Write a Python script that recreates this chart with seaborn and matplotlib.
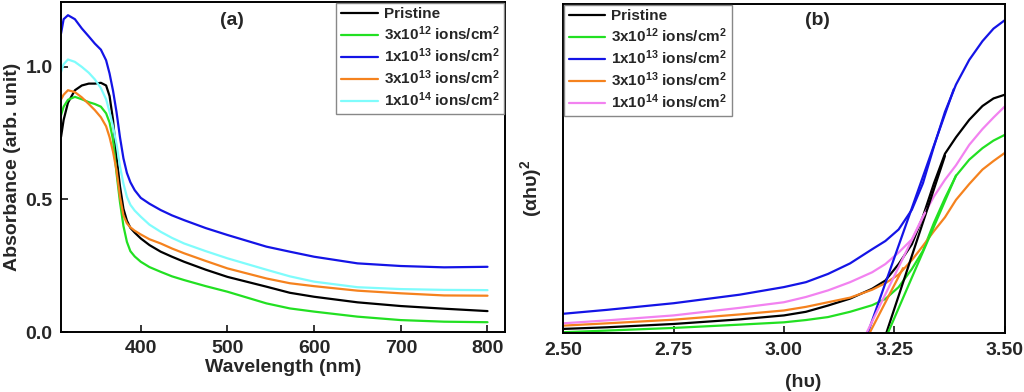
import numpy as np
import pandas as pd
import seaborn as sns
import matplotlib.pyplot as plt

# ---- data (a): absorbance spectra ----
wavelength = [308, 311, 316, 324, 332, 340, 347, 354, 360, 364, 368, 372, 376, 380, 384, 388,
              393, 400, 410, 423, 436, 450, 475, 500, 545, 572, 600, 650, 700, 750, 800]
abs_pristine = [0.736, 0.80, 0.865, 0.912, 0.93, 0.937, 0.937, 0.94, 0.93, 0.89, 0.80, 0.66,
                0.55, 0.465, 0.42, 0.393, 0.375, 0.353, 0.328, 0.303, 0.284, 0.265, 0.235,
                0.208, 0.171, 0.148, 0.133, 0.112, 0.098, 0.088, 0.079]
abs_3e12 = [0.818, 0.85, 0.876, 0.887, 0.878, 0.867, 0.86, 0.85, 0.825, 0.79, 0.724, 0.60,
            0.49, 0.40, 0.34, 0.305, 0.285, 0.265, 0.245, 0.227, 0.21, 0.196, 0.173,
            0.152, 0.108, 0.089, 0.077, 0.058, 0.045, 0.039, 0.037]
abs_1e13 = [1.126, 1.18, 1.195, 1.18, 1.145, 1.115, 1.088, 1.065, 1.025, 0.975, 0.91, 0.83,
            0.735, 0.655, 0.60, 0.565, 0.535, 0.506, 0.484, 0.46, 0.44, 0.422, 0.392,
            0.366, 0.322, 0.303, 0.284, 0.259, 0.249, 0.244, 0.246]
abs_3e13 = [0.877, 0.895, 0.912, 0.905, 0.885, 0.86, 0.837, 0.81, 0.776, 0.735, 0.68, 0.61,
            0.51, 0.44, 0.41, 0.395, 0.382, 0.368, 0.35, 0.334, 0.315, 0.297, 0.268,
            0.24, 0.202, 0.184, 0.173, 0.156, 0.146, 0.138, 0.137]
abs_1e14 = [0.981, 1.01, 1.028, 1.019, 1.0, 0.978, 0.953, 0.92, 0.878, 0.83, 0.775, 0.71,
            0.625, 0.56, 0.51, 0.48, 0.458, 0.435, 0.405, 0.378, 0.355, 0.334, 0.305,
            0.278, 0.235, 0.21, 0.19, 0.169, 0.162, 0.159, 0.158]

# ---- data (b): Tauc plot (arbitrary units) ----
energy = [2.50, 2.60, 2.75, 2.90, 3.00, 3.05, 3.10, 3.15, 3.20, 3.23, 3.26, 3.29, 3.315,
          3.34, 3.365, 3.39, 3.42, 3.45, 3.475, 3.50]
tauc_pristine = [0.013, 0.018, 0.028, 0.042, 0.054, 0.065, 0.084, 0.105, 0.135, 0.16, 0.21,
                 0.27, 0.354, 0.455, 0.545, 0.595, 0.648, 0.69, 0.713, 0.724]
tauc_3e12 = [0.003, 0.008, 0.016, 0.026, 0.033, 0.04, 0.049, 0.065, 0.085, 0.104, 0.14,
             0.195, 0.25, 0.335, 0.41, 0.478, 0.527, 0.562, 0.585, 0.602]
tauc_1e13 = [0.059, 0.071, 0.091, 0.117, 0.14, 0.155, 0.18, 0.212, 0.255, 0.28, 0.315,
             0.375, 0.455, 0.567, 0.672, 0.755, 0.83, 0.887, 0.925, 0.95]
tauc_3e13 = [0.023, 0.03, 0.041, 0.057, 0.069, 0.08, 0.094, 0.108, 0.132, 0.152, 0.178,
             0.222, 0.265, 0.31, 0.352, 0.405, 0.453, 0.497, 0.523, 0.547]
tauc_1e14 = [0.030, 0.039, 0.054, 0.077, 0.094, 0.11, 0.13, 0.155, 0.185, 0.21, 0.245,
             0.285, 0.354, 0.415, 0.466, 0.51, 0.572, 0.62, 0.655, 0.688]

# linear fits: x-intercept (band gap), end of line, slope
fit_start = [3.232, 3.2355, 3.19, 3.194, 3.187]
fit_end = [3.365, 3.39, 3.385, 3.27, 3.32]
fit_slope = [4.05, 3.1, 3.8, 2.6, 2.75]

labels = ["Pristine",
          r"3x10$^{\mathbf{12}}$ ions/cm$^{\mathbf{2}}$",
          r"1x10$^{\mathbf{13}}$ ions/cm$^{\mathbf{2}}$",
          r"3x10$^{\mathbf{13}}$ ions/cm$^{\mathbf{2}}$",
          r"1x10$^{\mathbf{14}}$ ions/cm$^{\mathbf{2}}$"]
colors_a = ["black", "#22e022", "#1414e6", "#f5821e", "#7ffcfc"]
colors_b = ["black", "#22e022", "#1414e6", "#f5821e", "#f282f0"]

sns.set_style("ticks")
plt.rcParams['font.family'] = ['Liberation Sans', 'DejaVu Sans']
plt.rcParams['font.weight'] = 'bold'
plt.rcParams['axes.labelweight'] = 'bold'
plt.rcParams['mathtext.fontset'] = 'custom'
plt.rcParams['mathtext.rm'] = 'Liberation Sans:bold'
plt.rcParams['mathtext.bf'] = 'Liberation Sans:bold'
plt.rcParams['mathtext.it'] = 'Liberation Sans:bold:italic'

fig = plt.figure(figsize=(10.24, 3.92), dpi=100)
ax1 = fig.add_axes([0.0596, 0.153, 0.4334, 0.842])
ax2 = fig.add_axes([0.550, 0.150, 0.431, 0.840])

for ys, lab, col in zip([abs_pristine, abs_3e12, abs_1e13, abs_3e13, abs_1e14], labels, colors_a):
    sns.lineplot(x=wavelength, y=ys, ax=ax1, color=col, linewidth=1.6, label=lab)

for ys, lab, col in zip([tauc_pristine, tauc_3e12, tauc_1e13, tauc_3e13, tauc_1e14], labels, colors_b):
    sns.lineplot(x=energy, y=ys, ax=ax2, color=col, linewidth=1.6, label=lab)

# straight-line extrapolations to the energy axis
for x0, x1, m, col in zip(fit_start, fit_end, fit_slope, colors_b):
    xs = np.array([x0, x1])
    sns.lineplot(x=xs, y=m * (xs - x0), ax=ax2, color=col, linewidth=1.6)

# axes (a)
ax1.set_xlim(308, 820)
ax1.set_ylim(0, 1.245)
ax1.set_xticks([400, 500, 600, 700, 800])
ax1.set_yticks([0.0, 0.5, 1.0])
ax1.set_xlabel("Wavelength (nm)", fontsize=14, labelpad=1)
ax1.set_ylabel("Absorbance (arb. unit)", fontsize=14, labelpad=3)
ax1.text(0.385, 0.945, "(a)", transform=ax1.transAxes, ha='center', va='center',
         fontsize=14, fontweight='bold')

# axes (b)
ax2.set_xlim(2.5, 3.5)
ax2.set_ylim(0, 1)
ax2.set_xticks([2.50, 2.75, 3.00, 3.25, 3.50])
ax2.set_xticklabels(["2.50", "2.75", "3.00", "3.25", "3.50"])
ax2.set_yticks([])
ax2.set_xlabel("(h\u03c5)", fontsize=14)
ax2.set_ylabel("(\u03b1h\u03c5)$^2$", fontsize=14)
ax2.xaxis.set_label_coords(0.543, -0.125)
ax2.yaxis.set_label_coords(-0.044, 0.44)
ax2.text(0.577, 0.95, "(b)", transform=ax2.transAxes, ha='center', va='center',
         fontsize=14, fontweight='bold')

for ax in (ax1, ax2):
    ax.tick_params(direction='in', length=5, width=1.3, labelsize=14, pad=6)
    for s in ax.spines.values():
        s.set_linewidth(1.4)
        s.set_color('black')
    for t in ax.get_xticklabels() + ax.get_yticklabels():
        t.set_fontweight('bold')

leg_kw = dict(fontsize=11, handlelength=2.4, labelspacing=0.22, borderpad=0.3,
              handletextpad=0.4, fancybox=False, framealpha=1, edgecolor='#888888',
              borderaxespad=0.05)
l1 = ax1.legend(loc='upper right', **leg_kw)
l2 = ax2.legend(loc='upper left', **leg_kw)
for leg in (l1, l2):
    leg.get_frame().set_linewidth(1.0)
    for t in leg.get_texts():
        t.set_fontweight('bold')

fig.savefig("out.png", dpi=100)
